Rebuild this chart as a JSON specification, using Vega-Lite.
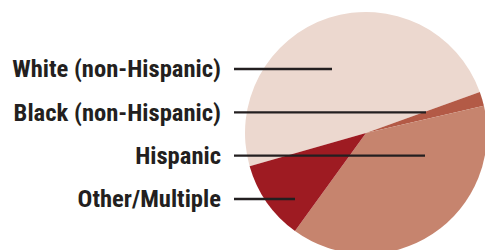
{
  "$schema": "https://vega.github.io/schema/vega-lite/v6.json",
  "width": 485,
  "height": 250,
  "padding": 0,
  "autosize": {"type": "none"},
  "background": "#ffffff",
  "config": {"view": {"stroke": null}},
  "data": {
    "values": [
      {"group": "White (non-Hispanic)", "value": 48.9, "ord": 1, "lineEnd": 332},
      {"group": "Black (non-Hispanic)", "value": 1.9, "ord": 2, "lineEnd": 426},
      {"group": "Hispanic", "value": 38.6, "ord": 3, "lineEnd": 425},
      {"group": "Other/Multiple", "value": 10.6, "ord": 4, "lineEnd": 295}
    ]
  },
  "layer": [
    {
      "mark": {"type": "arc", "outerRadius": 121, "x": {"expr": "width * 366 / 485"}, "y": {"expr": "height * 133 / 250"}},
      "encoding": {
        "theta": {"field": "value", "type": "quantitative", "stack": true, "scale": {"range": [4.435, 10.718]}},
        "order": {"field": "ord", "type": "quantitative"},
        "color": {
          "field": "group", "type": "nominal", "legend": null,
          "scale": {
            "domain": ["White (non-Hispanic)", "Black (non-Hispanic)", "Hispanic", "Other/Multiple"],
            "range": ["#ecd8cf", "#b35a46", "#c6846e", "#9e1b22"]
          }
        }
      }
    },
    {
      "mark": {"type": "rule", "color": "#231f20", "strokeWidth": 2.3},
      "encoding": {
        "x": {"field": "lineEnd", "type": "quantitative", "scale": {"domain": [0, 485], "nice": false, "zero": false}, "axis": null},
        "x2": {"datum": 234},
        "y": {"field": "group", "type": "ordinal", "sort": null, "scale": {"type": "point", "domain": ["White (non-Hispanic)", "Black (non-Hispanic)", "Hispanic", "Other/Multiple"], "range": [69, 199], "padding": 0}, "axis": null}
      }
    },
    {
      "mark": {"type": "text", "align": "right", "baseline": "alphabetic", "dy": 8.3, "font": "Roboto Condensed, Roboto", "fontWeight": "bold", "fontSize": 24.6, "color": "#231f20"},
      "encoding": {
        "x": {"datum": 221, "type": "quantitative"},
        "y": {"field": "group", "type": "ordinal", "sort": null},
        "text": {"field": "group"}
      }
    }
  ]
}
